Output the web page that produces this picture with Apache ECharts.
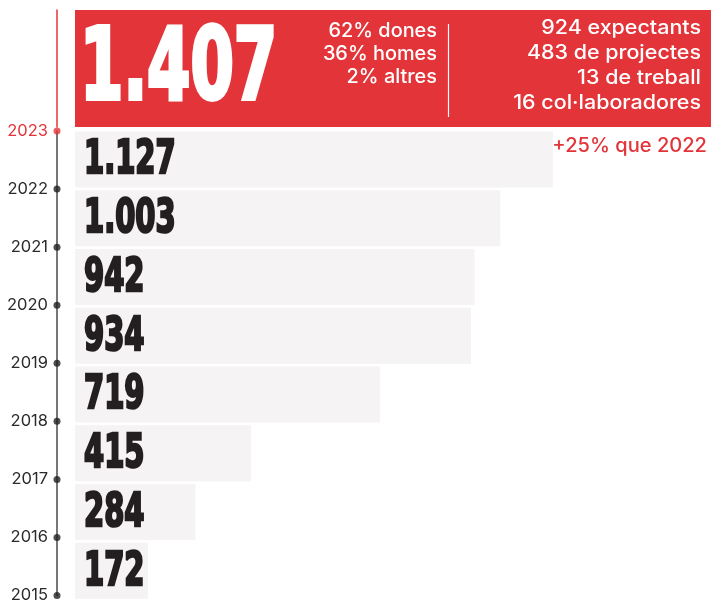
<!DOCTYPE html>
<html>
<head>
<meta charset="utf-8">
<script src="https://cdn.jsdelivr.net/npm/echarts@6/dist/echarts.min.js"></script>
<style>
html,body{margin:0;padding:0;background:#fff;}
#chart{width:711px;height:604px;}
</style>
</head>
<body>
<div id="chart"></div>
<script>
// ---- data ----
const yearTicks = [2023, 2022, 2021, 2020, 2019, 2018, 2017, 2016, 2015];
const barYears = ['2022', '2021', '2020', '2019', '2018', '2017', '2016', '2015'];
const barValues = [1127, 1003, 942, 934, 719, 415, 284, 172];
const currentYear = '2023';
const currentValue = 1407;
const genderLines = ['62% dones', '36% homes', '2% altres'];
const typeLines = ['924 expectants', '483 de projectes', '13 de treball', '16 col·laboradores'];
const growthNote = '+25% que 2022';

const RED = '#e3343a';
const BAR = '#f5f3f4';
const INK = '#231f20';
const SANS = 'Inter, "Noto Sans", sans-serif';
const BIG = '"DejaVu Sans Condensed", "DejaVu Sans", sans-serif';

function fmt(v) {
  return String(v).replace(/\B(?=(\d{3})+(?!\d))/g, '.');
}

const chart = echarts.init(document.getElementById('chart'), null, {renderer: 'canvas'});

const graphics = [];
const leftCenters = [31, 54, 76.7];
genderLines.forEach((t, i) => {
  graphics.push({type: 'text', x: 437, y: leftCenters[i], z: 100, scaleX: 1.02,
    style: {text: t, fill: '#fff', font: '500 19.5px ' + SANS, align: 'right', verticalAlign: 'middle'}});
});
const rightCenters = [28.5, 53.5, 78.5, 103.5];
typeLines.forEach((t, i) => {
  graphics.push({type: 'text', x: 701, y: rightCenters[i], z: 100, scaleX: 1.1,
    style: {text: t, fill: '#fff', font: '500 19.5px ' + SANS, align: 'right', verticalAlign: 'middle'}});
});
graphics.push({type: 'line', z: 100, shape: {x1: 448.5, y1: 24, x2: 448.5, y2: 117},
  style: {stroke: '#fff', lineWidth: 1.2}});
graphics.push({type: 'text', x: 707, y: 146.5, z: 100, scaleX: 1.03,
  style: {text: growthNote, fill: RED, font: '500 19.5px ' + SANS, align: 'right', verticalAlign: 'middle'}});

function numberLabel(fontSize, color, scale, dx, dy, sw) {
  return function (params, api) {
    const v = api.value(0);
    const p = api.coord([0, api.value(1)]);
    return {
      type: 'text',
      x: p[0] + dx,
      y: p[1] + dy,
      scaleX: scale,
      style: {text: fmt(v), fill: color, stroke: color, lineWidth: sw,
        font: 'bold ' + fontSize + 'px ' + BIG, align: 'left', verticalAlign: 'middle'}
    };
  };
}

const option = {
  animation: false,
  backgroundColor: '#fff',
  grid: [
    {left: 75, right: 0, top: 10, height: 117},
    {left: 75, right: 0, top: 130, bottom: 4},
    {left: 57, width: 10, top: 131, bottom: 4}
  ],
  xAxis: [
    {gridIndex: 0, type: 'value', min: 0, max: currentValue, show: false},
    {gridIndex: 1, type: 'value', min: 0, max: 1500, show: false},
    {gridIndex: 2, type: 'value', min: 0, max: 1, show: false}
  ],
  yAxis: [
    {gridIndex: 0, type: 'category', data: [currentYear], offset: 18,
      axisLine: {show: true, onZero: false, lineStyle: {color: RED, width: 1.5}},
      axisTick: {show: false}, axisLabel: {show: false}, splitLine: {show: false}},
    {gridIndex: 1, type: 'category', data: barYears, inverse: true, show: false},
    {gridIndex: 2, type: 'value', min: 2015, max: 2023, interval: 1,
      axisLine: {show: true, onZero: false, lineStyle: {color: '#4a4a4a', width: 1.5}},
      axisTick: {show: false}, splitLine: {show: false},
      axisLabel: {margin: 9, fontFamily: SANS, fontSize: 16.5, color: '#2b2b2b',
        formatter: v => (String(v) === currentYear ? '{r|' + v + '}' : String(v)),
        rich: {r: {color: RED, fontFamily: SANS, fontSize: 16.5}}}}
  ],
  series: [
    {type: 'bar', xAxisIndex: 0, yAxisIndex: 0, data: [currentValue],
      barWidth: '100%', itemStyle: {color: RED}, silent: true},
    {type: 'custom', xAxisIndex: 0, yAxisIndex: 0,
      data: [[currentValue, 0]], encode: {x: 0, y: 1},
      renderItem: numberLabel(99, '#fff', 0.7, 5, 5, 4), z: 5, silent: true},
    {type: 'bar', xAxisIndex: 1, yAxisIndex: 1, data: barValues,
      barWidth: 56, itemStyle: {color: BAR}, silent: true},
    {type: 'custom', xAxisIndex: 1, yAxisIndex: 1,
      data: barValues.map((v, i) => [v, i]), encode: {x: 0, y: 1},
      renderItem: numberLabel(46, INK, 0.7, 9, 2, 2.5), z: 5, silent: true},
    {type: 'scatter', xAxisIndex: 2, yAxisIndex: 2, clip: false,
      data: yearTicks.map(y => ({value: [0, y], itemStyle: {color: String(y) === currentYear ? RED : INK}})),
      symbolSize: 7, z: 10, silent: true}
  ],
  graphic: graphics
};
chart.setOption(option);
</script>
</body>
</html>
